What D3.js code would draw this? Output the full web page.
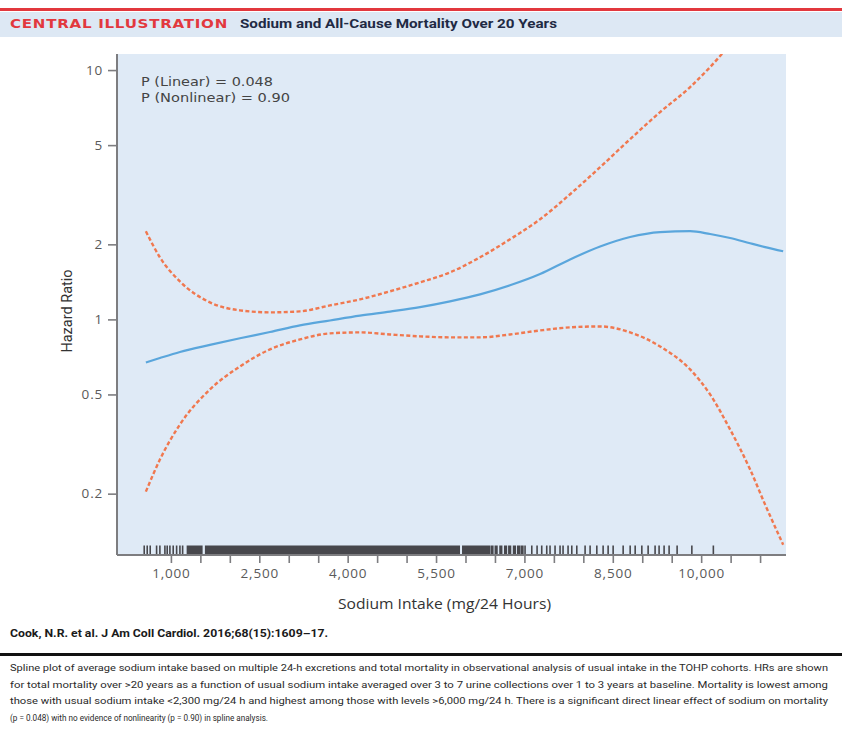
<!DOCTYPE html>
<html>
<head>
<meta charset="utf-8">
<script src="https://cdn.jsdelivr.net/npm/d3@7"></script>
<style>
  body { margin: 0; background: #fff; }
  svg { display: block; font-family: "Open Sans", "DejaVu Sans", sans-serif; }
</style>
</head>
<body>
<div id="chart"></div>
<script>
// spline estimate (HR) and 95% CI
var sodium  = [575, 813, 1153, 1662, 2172, 2681, 3190, 3700, 4209, 4719, 5228, 5737, 6247, 6756, 7266, 7775, 8285, 8794, 9303, 9813, 10152, 10492, 10831, 11086, 11392];
var hr      = [0.672, 0.70, 0.74, 0.79, 0.84, 0.89, 0.946, 0.99, 1.035, 1.075, 1.12, 1.181, 1.26, 1.37, 1.52, 1.74, 1.96, 2.14, 2.24, 2.26, 2.2, 2.12, 2.02, 1.95, 1.876];
var upperCI = [2.256, 1.774, 1.42, 1.17, 1.087, 1.067, 1.077, 1.138, 1.203, 1.296, 1.408, 1.544, 1.774, 2.096, 2.521, 3.177, 4.077, 5.283, 6.782, 8.545, 10.28, 12.6, 15, 17, 19];
var lowerCI = [0.2038, 0.274, 0.379, 0.5235, 0.6475, 0.758, 0.831, 0.879, 0.887, 0.87, 0.855, 0.847, 0.847, 0.87, 0.903, 0.929, 0.937, 0.887, 0.779, 0.63, 0.5, 0.3615, 0.25, 0.1807, 0.1249];

// rug of observed intakes: single marks and solid (overplotted) runs
var rugTicks = [547, 598, 649, 757, 813, 898, 937, 983, 1039, 1097, 1153, 1199,
  6450, 6520, 6600, 6680, 6750, 6830, 6900, 6960,
  7011, 7125, 7215, 7294, 7379, 7435, 7520, 7605, 7656, 7741, 7804, 7889, 8030, 8115,
  8229, 8336, 8421, 8506, 8676, 8795, 8880, 8993, 9100, 9218, 9286, 9371, 9456, 9592, 9842, 10207];
var rugBands = [[1267, 1538], [1577, 5907], [5941, 6416]];

var yTicks = [0.2, 0.5, 1, 2, 5, 10];
var xTicks = d3.range(1000, 11001, 500);
var xLabels = [1000, 2500, 4000, 5500, 7000, 8500, 10000];

var pText = ["P (Linear) = 0.048", "P (Nonlinear) = 0.90"];
var caption = [
  "Spline plot of average sodium intake based on multiple 24-h excretions and total mortality in observational analysis of usual intake in the TOHP cohorts. HRs are shown",
  "for total mortality over >20 years as a function of usual sodium intake averaged over 3 to 7 urine collections over 1 to 3 years at baseline. Mortality is lowest among",
  "those with usual sodium intake <2,300 mg/24 h and highest among those with levels >6,000 mg/24 h. There is a significant direct linear effect of sodium on mortality",
  "(p = 0.048) with no evidence of nonlinearity (p = 0.90) in spline analysis."
];

var W = 842, H = 731;
var plot = {left: 117, top: 54, right: 786, bottom: 555};

var svg = d3.select("#chart").append("svg")
    .attr("width", W)
    .attr("height", H);

// header band
svg.append("rect").attr("x", 0).attr("y", 8).attr("width", W).attr("height", 3).attr("fill", "#e2383e");
svg.append("rect").attr("x", 0).attr("y", 12).attr("width", W).attr("height", 25).attr("fill", "#dde8f4");
svg.append("text")
    .attr("x", 10).attr("y", 28)
    .attr("textLength", 218).attr("lengthAdjust", "spacingAndGlyphs")
    .style("font-family", "'DejaVu Sans', sans-serif")
    .style("font-size", "12.5px").style("font-weight", "bold")
    .style("letter-spacing", "0.6px")
    .style("fill", "#e2383e")
    .text("CENTRAL ILLUSTRATION");
svg.append("text")
    .attr("x", 240).attr("y", 28)
    .attr("textLength", 317).attr("lengthAdjust", "spacingAndGlyphs")
    .style("font-family", "'Liberation Sans Narrow', 'Roboto', sans-serif")
    .style("font-size", "12.5px").style("font-weight", "bold")
    .style("fill", "#1f2a44")
    .text("Sodium and All-Cause Mortality Over 20 Years");

// scales
var x = d3.scaleLinear().domain([85, 11440]).range([plot.left, plot.right]);
var y = d3.scaleLog().domain([0.1135, 11.6]).range([plot.bottom, plot.top]);

svg.append("rect")
    .attr("x", plot.left).attr("y", plot.top)
    .attr("width", plot.right - plot.left).attr("height", plot.bottom - plot.top)
    .attr("fill", "#dfeaf6");

svg.append("clipPath").attr("id", "clip")
  .append("rect")
    .attr("x", plot.left).attr("y", plot.top)
    .attr("width", plot.right - plot.left).attr("height", plot.bottom - plot.top);

// rug
var rugH = 9.5;
svg.append("g").selectAll("rect")
    .data(rugBands)
    .enter().append("rect")
      .attr("x", function(d) { return x(d[0]); })
      .attr("width", function(d) { return x(d[1]) - x(d[0]); })
      .attr("y", plot.bottom - rugH)
      .attr("height", rugH)
      .attr("fill", "#47474c");
svg.append("g").selectAll("line")
    .data(rugTicks)
    .enter().append("line")
      .attr("x1", function(d) { return x(d); })
      .attr("x2", function(d) { return x(d); })
      .attr("y1", plot.bottom - rugH)
      .attr("y2", plot.bottom)
      .attr("stroke", "#47474c")
      .attr("stroke-width", function(d) { return d > 6400 && d < 7000 ? 3.2 : 1.6; });

// curves
var line = function(vals) {
  return d3.line()
    .x(function(d, i) { return x(sodium[i]); })
    .y(function(d) { return y(d); })
    .curve(d3.curveMonotoneX)(vals);
};
var curves = svg.append("g").attr("clip-path", "url(#clip)");
[upperCI, lowerCI].forEach(function(ci) {
  curves.append("path")
      .attr("d", line(ci))
      .attr("fill", "none")
      .attr("stroke", "#f0784f")
      .attr("stroke-width", 2.4)
      .attr("stroke-dasharray", "4,2.4");
});
curves.append("path")
    .attr("d", line(hr))
    .attr("fill", "none")
    .attr("stroke", "#5aa6dc")
    .attr("stroke-width", 2.2);

// axes
var axisColor = "#7d7d80";
var yAxis = svg.append("g")
    .attr("transform", "translate(" + plot.left + ",0)")
    .call(d3.axisLeft(y).tickValues(yTicks).tickFormat(d3.format("")).tickSize(9).tickPadding(5));
yAxis.select(".domain").attr("d", "M0," + plot.top + "V" + plot.bottom).attr("stroke", axisColor).attr("stroke-width", 2);

var xAxis = svg.append("g")
    .attr("transform", "translate(0," + plot.bottom + ")")
    .call(d3.axisBottom(x).tickValues(xTicks)
      .tickFormat(function(d) { return xLabels.indexOf(d) >= 0 ? d3.format(",")(d) : ""; })
      .tickSize(8).tickPadding(5));
xAxis.select(".domain").attr("d", "M" + plot.left + ",0H" + plot.right).attr("stroke", axisColor).attr("stroke-width", 2);

[yAxis, xAxis].forEach(function(a) {
  a.selectAll(".tick line").attr("stroke", axisColor).attr("stroke-width", 1.6);
  a.selectAll(".tick text")
    .style("font-family", "'Open Sans', sans-serif")
    .style("font-size", "13.5px")
    .style("letter-spacing", "0.8px")
    .style("fill", "#5a5a5a");
});

// axis titles
svg.append("text")
    .attr("transform", "translate(72,311) rotate(-90)")
    .attr("text-anchor", "middle")
    .style("font-family", "'Liberation Sans Narrow', 'Roboto', sans-serif")
    .style("font-size", "14.5px")
    .style("fill", "#333")
    .text("Hazard Ratio");
svg.append("text")
    .attr("x", 338).attr("y", 609)
    .attr("textLength", 213).attr("lengthAdjust", "spacingAndGlyphs")
    .style("font-family", "'Open Sans', sans-serif")
    .style("font-size", "14.5px")
    .style("fill", "#333")
    .text("Sodium Intake (mg/24 Hours)");

// p values
svg.append("g").selectAll("text")
    .data(pText)
    .enter().append("text")
      .attr("x", 141)
      .attr("y", function(d, i) { return 86 + i * 15.5; })
      .attr("textLength", function(d, i) { return i === 0 ? 132 : 149; })
      .attr("lengthAdjust", "spacingAndGlyphs")
      .style("font-family", "'DejaVu Sans', sans-serif")
      .style("font-size", "13px")
      .style("fill", "#444")
      .text(function(d) { return d; });

// citation
svg.append("text")
    .attr("x", 10).attr("y", 637)
    .attr("textLength", 318).attr("lengthAdjust", "spacingAndGlyphs")
    .style("font-family", "'Liberation Sans Narrow', 'Roboto', sans-serif")
    .style("font-size", "11px").style("font-weight", "bold")
    .style("fill", "#1a1a1a")
    .text("Cook, N.R. et al. J Am Coll Cardiol. 2016;68(15):1609\u201317.");

svg.append("rect").attr("x", 0).attr("y", 653).attr("width", W).attr("height", 3).attr("fill", "#111");

// caption
svg.append("g").selectAll("text")
    .data(caption)
    .enter().append("text")
      .attr("x", 10)
      .attr("y", function(d, i) { return 671 + i * 16.5; })
      .attr("textLength", function(d, i) { return i < 3 ? 818 : 258; })
      .attr("lengthAdjust", "spacingAndGlyphs")
      .style("font-family", "'Liberation Sans Narrow', 'Roboto', sans-serif")
      .style("font-size", "9.5px")
      .style("fill", "#2a2a2a")
      .text(function(d) { return d; });
</script>
</body>
</html>
